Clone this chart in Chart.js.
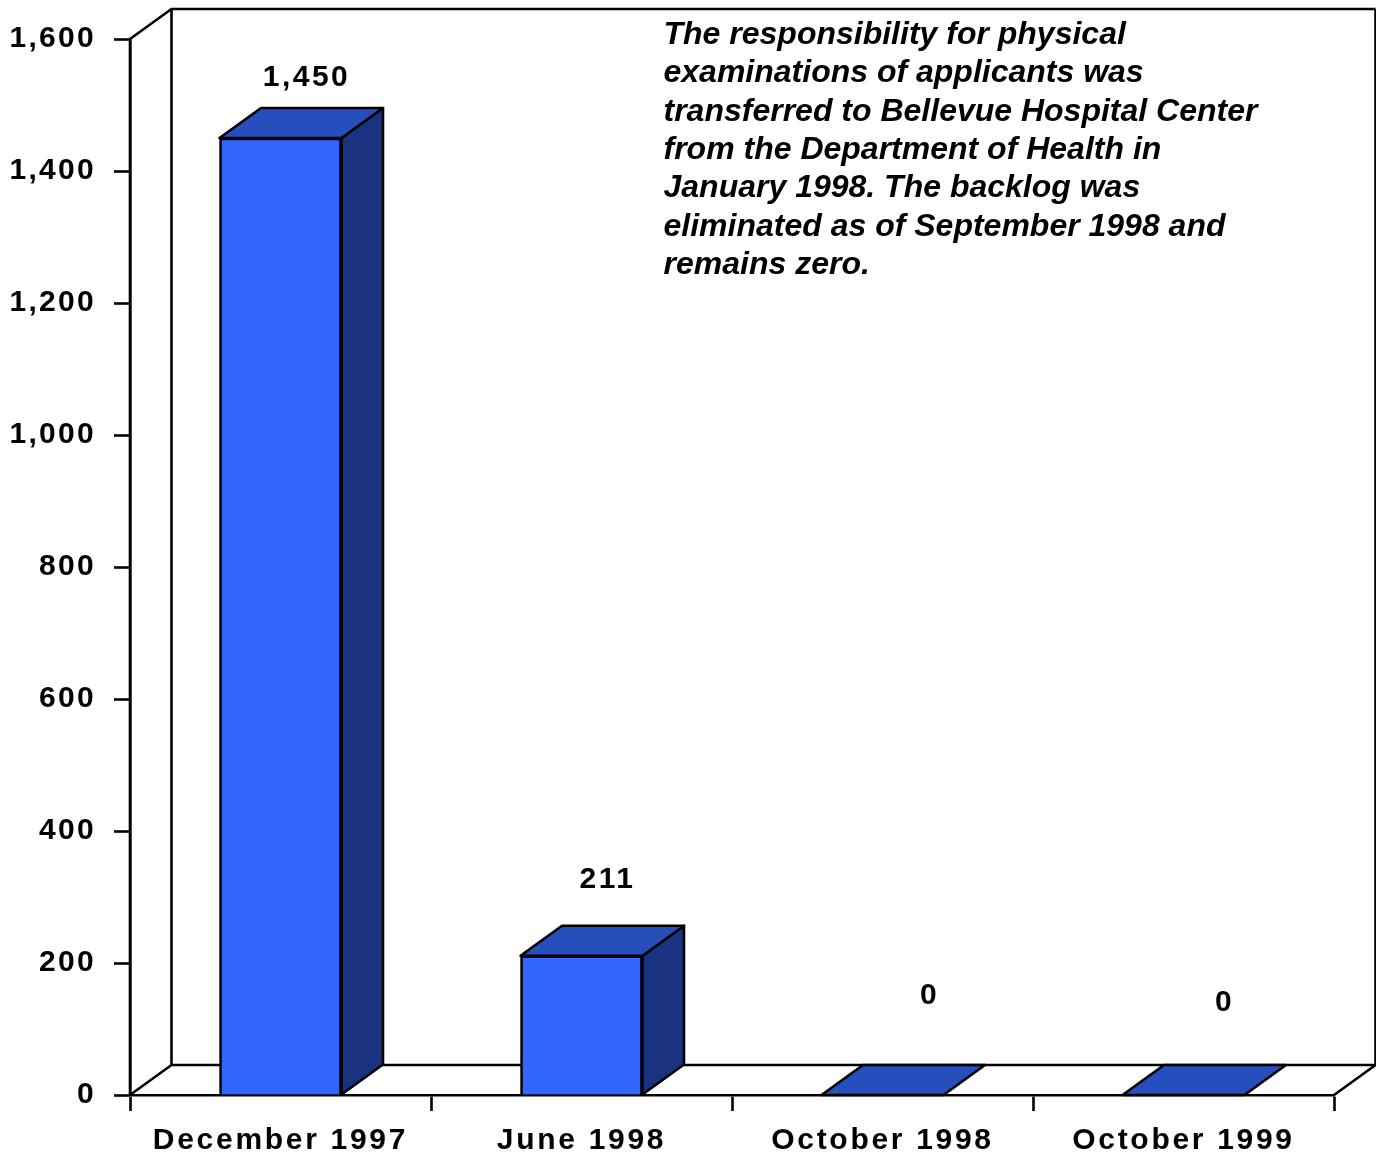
<!DOCTYPE html>
<html>
<head>
<meta charset="utf-8">
<style>html,body{margin:0;padding:0;background:#fff}#wrap{width:1376px;height:1154px}canvas{display:block}</style>
<script src="https://cdn.jsdelivr.net/npm/chart.js@4"></script>
</head>
<body>
<div id="wrap"><canvas id="c" width="1376" height="1154"></canvas></div>
<script>
const categories = ['December 1997', 'June 1998', 'October 1998', 'October 1999'];
const backlog = [1450, 211, 0, 0];
const valueLabels = ['1,450', '211', '0', '0'];
const noteLines = [
  'The responsibility for physical',
  'examinations of applicants was',
  'transferred to Bellevue Hospital Center',
  'from the Department of Health in',
  'January 1998. The backlog was',
  'eliminated as of September 1998 and',
  'remains zero.'
];
const labelShiftX = [26, 26, 47, 41];
const labelShiftY = [60.5, 76.5, 99.5, 92.5];
const DX = 41.5, DY = -30;
const LINE = 2.6;
const FONT = '"Liberation Sans", Arial, sans-serif';

function spaced(scale, spacing) {
  if (scale._spacedLabels) return;
  scale._spacedLabels = true;
  const draw = scale.drawLabels;
  scale.drawLabels = function (area) {
    const ctx = this.ctx;
    const prev = ctx.letterSpacing;
    ctx.letterSpacing = spacing;
    draw.call(this, area);
    ctx.letterSpacing = prev;
  };
}

const threeD = {
  id: 'threeD',
  beforeDatasetsDraw(chart) {
    const { ctx, scales: { x, y } } = chart;
    const l = x.left, r = x.right, t = y.top, b = y.bottom;
    ctx.save();
    ctx.strokeStyle = '#000';
    ctx.lineWidth = LINE;
    ctx.lineJoin = 'round';
    ctx.beginPath();
    ctx.moveTo(l, t); ctx.lineTo(l, b);
    ctx.moveTo(l, t); ctx.lineTo(l + DX, t + DY); ctx.lineTo(r + DX, t + DY);
    ctx.moveTo(l + DX, t + DY); ctx.lineTo(l + DX, b + DY); ctx.lineTo(r + DX, b + DY); ctx.lineTo(r + DX, t + DY);
    ctx.moveTo(l, b); ctx.lineTo(l + DX, b + DY);
    ctx.moveTo(r, b); ctx.lineTo(r + DX, b + DY);
    ctx.stroke();
    chart.getDatasetMeta(0).data.forEach((bar) => {
      const hw = bar.width / 2;
      const x0 = bar.x - hw, x1 = bar.x + hw, top = bar.y, base = bar.base;
      if (base - top > 0.5) {
        ctx.beginPath();
        ctx.moveTo(x1, top); ctx.lineTo(x1 + DX, top + DY);
        ctx.lineTo(x1 + DX, base + DY); ctx.lineTo(x1, base); ctx.closePath();
        ctx.fillStyle = '#1a3380'; ctx.fill(); ctx.stroke();
      }
      ctx.beginPath();
      ctx.moveTo(x0, top); ctx.lineTo(x0 + DX, top + DY);
      ctx.lineTo(x1 + DX, top + DY); ctx.lineTo(x1, top); ctx.closePath();
      ctx.fillStyle = '#264fbd'; ctx.fill(); ctx.stroke();
    });
    ctx.restore();
  },
  afterDatasetsDraw(chart) {
    const { ctx } = chart;
    ctx.save();
    ctx.fillStyle = '#000';
    ctx.textAlign = 'center';
    ctx.textBaseline = 'middle';
    ctx.font = 'bold 30px ' + FONT;
    ctx.letterSpacing = '2.5px';
    chart.getDatasetMeta(0).data.forEach((bar, i) => {
      ctx.fillText(valueLabels[i], bar.x + labelShiftX[i], bar.y - labelShiftY[i]);
    });
    ctx.textAlign = 'left';
    ctx.textBaseline = 'alphabetic';
    ctx.font = 'italic bold 32px ' + FONT;
    ctx.letterSpacing = '0px';
    noteLines.forEach((line, i) => ctx.fillText(line, 663.5, 44 + i * 38.35));
    ctx.restore();
  }
};

new Chart(document.getElementById('c'), {
  type: 'bar',
  data: {
    labels: categories,
    datasets: [{
      data: backlog,
      backgroundColor: '#3366ff',
      borderColor: '#000',
      borderWidth: LINE,
      barThickness: 122
    }]
  },
  plugins: [threeD],
  options: {
    responsive: false,
    animation: false,
    events: [],
    layout: { padding: { top: 39, right: 42, left: 0, bottom: 0 } },
    plugins: { legend: { display: false }, tooltip: { enabled: false }, title: { display: false } },
    scales: {
      y: {
        min: 0, max: 1600,
        afterFit(s) { s.width = 130; spaced(s, '2.3px'); },
        grid: { drawOnChartArea: false, tickLength: 16, tickWidth: LINE, tickColor: '#000' },
        border: { display: true, color: '#000', width: LINE },
        ticks: {
          stepSize: 200, color: '#000', padding: 18,
          font: { family: FONT, size: 30, weight: 'bold' },
          callback: (v) => v.toLocaleString('en-US')
        }
      },
      x: {
        afterFit(s) { s.height = 59; spaced(s, '2.7px'); },
        grid: { drawOnChartArea: false, tickLength: 16, tickWidth: LINE, tickColor: '#000' },
        border: { display: true, color: '#000', width: LINE },
        ticks: {
          color: '#000', padding: 12, maxRotation: 0, autoSkip: false,
          font: { family: FONT, size: 30, weight: 'bold' }
        }
      }
    }
  }
});
</script>
</body>
</html>
